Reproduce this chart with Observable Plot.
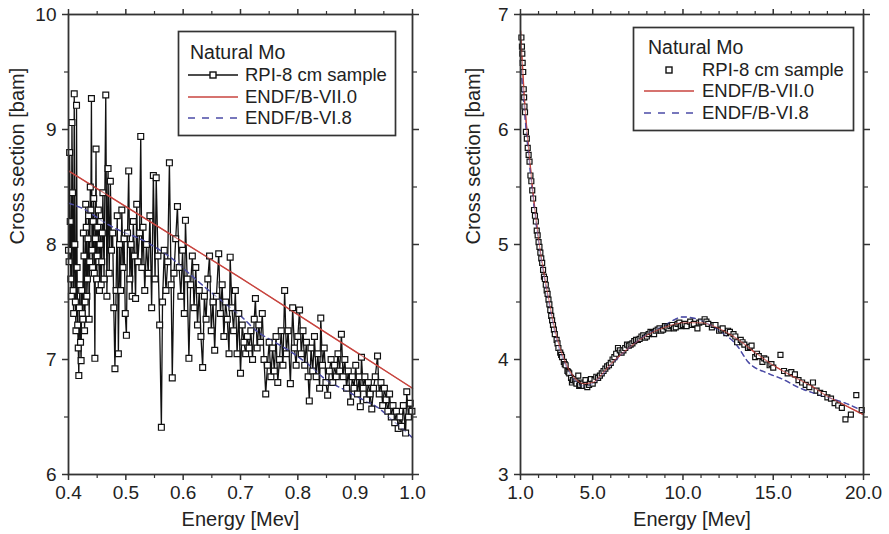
<!DOCTYPE html>
<html><head><meta charset="utf-8">
<script src="https://cdn.jsdelivr.net/npm/d3@7"></script>
<script src="https://cdn.jsdelivr.net/npm/@observablehq/plot@0.6"></script>
<style>
body{margin:0;background:#fff;}
#wrap{position:relative;width:889px;height:534px;font-family:"Liberation Sans",Arial,sans-serif;overflow:hidden;}
.panel{position:absolute;top:0;}
#overlay{position:absolute;left:0;top:0;pointer-events:none;}
</style></head><body><div id="wrap"></div>
<script>
// ---------- Left panel: 0.4 - 1.0 MeV ----------
const leftXTicks = [0.4, 0.5, 0.6, 0.7, 0.8, 0.9, 1.0];
const leftXMinor = [0.45, 0.55, 0.65, 0.75, 0.85, 0.95];
const leftYTicks = [6, 7, 8, 9, 10];
const leftYMinor = [6.5, 7.5, 8.5, 9.5];

// RPI-8 cm sample (energy MeV, cross section barn)
const leftRPI = [
[0.400,7.95],[0.402,8.80],[0.404,7.70],[0.406,9.06],[0.408,7.60],[0.410,9.31],[0.412,7.50],[0.414,9.21],
[0.416,7.30],[0.418,6.86],[0.420,7.65],[0.422,6.99],[0.424,7.40],[0.426,8.10],[0.428,7.25],[0.430,8.35],
[0.432,7.55],[0.434,8.05],[0.436,7.35],[0.438,8.50],[0.440,9.27],[0.442,7.80],[0.444,8.40],[0.446,7.01],
[0.448,8.83],[0.450,7.90],[0.452,8.30],[0.454,7.60],[0.456,8.20],[0.458,7.85],[0.460,8.45],[0.462,7.70],
[0.465,9.30],[0.467,7.55],[0.469,8.66],[0.471,7.75],[0.473,8.55],[0.475,7.95],[0.477,8.10],[0.479,7.45],
[0.481,6.92],[0.483,7.60],[0.485,8.25],[0.487,7.05],[0.489,8.00],[0.491,7.60],[0.493,8.30],[0.495,7.80],
[0.497,8.05],[0.499,7.40],[0.501,7.21],[0.503,8.10],[0.505,8.64],[0.507,7.70],[0.509,8.00],[0.511,7.55],
[0.513,8.20],[0.515,7.90],[0.517,7.53],[0.519,8.35],[0.521,7.85],[0.524,8.10],[0.526,8.94],[0.528,7.80],
[0.530,8.15],[0.533,7.60],[0.536,8.00],[0.539,7.75],[0.542,8.25],[0.545,7.45],[0.548,8.60],[0.551,7.70],
[0.553,8.58],[0.556,7.90],[0.559,7.30],[0.562,6.41],[0.564,7.50],[0.567,7.95],[0.570,7.60],[0.573,7.85],
[0.576,8.71],[0.579,7.65],[0.581,6.84],[0.584,7.75],[0.587,8.05],[0.590,8.33],[0.593,7.80],[0.596,7.55],
[0.599,7.95],[0.602,7.40],[0.604,8.21],[0.607,7.70],[0.610,7.01],[0.613,7.65],[0.616,7.90],[0.619,7.45],
[0.622,7.80],[0.625,7.30],[0.628,7.60],[0.631,7.20],[0.634,6.93],[0.637,7.55],[0.640,7.35],[0.643,7.70],
[0.646,7.90],[0.649,7.25],[0.652,7.50],[0.655,7.08],[0.658,7.55],[0.662,7.92],[0.665,7.40],[0.668,7.65],
[0.671,7.20],[0.674,7.50],[0.677,7.35],[0.680,7.05],[0.682,7.89],[0.685,7.45],[0.688,7.25],[0.691,7.60],
[0.694,7.05],[0.697,7.40],[0.700,6.88],[0.703,7.30],[0.706,7.15],[0.709,7.05],[0.712,7.20],[0.715,7.10],
[0.718,7.25],[0.721,7.00],[0.724,7.35],[0.726,7.53],[0.729,7.10],[0.732,7.30],[0.735,7.15],[0.738,7.40],
[0.741,7.00],[0.744,6.70],[0.747,6.95],[0.750,7.15],[0.753,6.85],[0.756,7.10],[0.759,6.90],[0.762,7.20],
[0.765,6.80],[0.768,7.00],[0.771,7.25],[0.774,6.95],[0.777,7.60],[0.780,7.05],[0.783,7.25],[0.787,6.79],
[0.791,7.45],[0.794,7.10],[0.797,6.95],[0.800,7.20],[0.803,7.43],[0.806,7.05],[0.809,7.25],[0.812,6.95],
[0.815,7.15],[0.818,6.85],[0.820,6.64],[0.823,7.10],[0.826,6.90],[0.829,7.20],[0.832,6.85],[0.835,7.05],
[0.838,6.75],[0.840,7.36],[0.843,6.95],[0.846,7.10],[0.849,6.80],[0.852,6.69],[0.855,6.90],[0.858,7.00],
[0.861,6.80],[0.864,6.95],[0.867,6.85],[0.870,7.05],[0.873,6.90],[0.876,7.22],[0.879,6.85],[0.882,7.00],
[0.885,6.75],[0.888,6.90],[0.892,6.63],[0.895,6.85],[0.898,6.75],[0.901,6.95],[0.904,6.70],[0.907,6.85],
[0.909,6.59],[0.911,7.02],[0.914,6.75],[0.917,6.85],[0.920,6.65],[0.923,6.80],[0.926,6.70],[0.929,6.57],
[0.932,6.75],[0.935,6.85],[0.939,7.03],[0.942,6.70],[0.945,6.80],[0.948,6.60],[0.951,6.75],[0.954,6.65],
[0.957,6.55],[0.960,6.70],[0.963,6.50],[0.966,6.60],[0.969,6.45],[0.972,6.55],[0.975,6.40],[0.978,6.50],
[0.981,6.42],[0.984,6.60],[0.988,6.36],[0.990,6.72],[0.993,6.50],[0.996,6.62],[0.999,6.55]
];
// extra points of the dense low-energy cluster
const leftRPIDense = [
[0.401,7.85],[0.403,8.20],[0.405,7.55],[0.407,8.45],[0.409,7.40],[0.411,8.00],[0.413,7.25],[0.415,7.80],
[0.417,7.10],[0.419,7.45],[0.421,7.15],[0.423,7.60],[0.425,7.35],[0.427,7.90],[0.429,7.50],[0.431,8.15],
[0.433,7.70],[0.435,8.25],[0.437,7.85],[0.439,8.30],[0.441,7.95],[0.443,8.20],[0.445,7.75],[0.447,8.05],
[0.449,7.70],[0.451,8.15],[0.453,7.85],[0.455,8.00],[0.457,7.65],[0.459,8.10]
];
const leftVII = [[0.40,8.64],[0.50,8.33],[0.60,8.02],[0.70,7.71],[0.80,7.39],[0.90,7.07],[1.00,6.75]];
const leftVI = [[0.40,8.36],[0.43,8.30],[0.46,8.20],[0.49,8.12],[0.52,8.06],[0.55,7.98],[0.58,7.88],
[0.61,7.75],[0.64,7.62],[0.67,7.50],[0.70,7.38],[0.73,7.24],[0.76,7.15],[0.79,7.06],[0.82,6.95],
[0.85,6.82],[0.88,6.74],[0.91,6.66],[0.94,6.58],[0.97,6.45],[1.00,6.32]];

// ---------- Right panel: 1 - 20 MeV ----------
const rightXTicks = [1, 5, 10, 15, 20];
const rightXMinor = [2,3,4,6,7,8,9,11,12,13,14,16,17,18,19];
const rightYTicks = [3, 4, 5, 6, 7];
const rightYMinor = [3.5, 4.5, 5.5, 6.5];

const rightRPI = [
[1.05,6.80],[1.10,6.66],[1.15,6.50],[1.20,6.28],[1.25,6.15],[1.30,5.98],[1.35,5.92],[1.40,5.84],
[1.45,5.78],[1.50,5.72],[1.55,5.60],[1.60,5.55],[1.65,5.47],[1.70,5.40],[1.75,5.30],[1.80,5.25],
[1.85,5.20],[1.90,5.12],[1.95,5.08],[2.00,5.02],[2.10,4.93],[2.20,4.84],[2.30,4.72],[2.40,4.65],
[2.50,4.57],[2.60,4.48],[2.70,4.38],[2.80,4.30],[2.90,4.22],[3.00,4.17],[3.10,4.10],[3.20,4.06],
[3.30,4.02],[3.40,3.98],[3.50,3.95],[3.60,3.90],[3.70,3.88],[3.80,3.84],[3.90,3.82],[4.00,3.83],
[4.10,3.79],[4.20,3.86],[4.30,3.78],[4.40,3.80],[4.50,3.77],[4.60,3.82],[4.70,3.76],[4.80,3.78],
[4.90,3.83],[5.00,3.79],[5.20,3.85],[5.40,3.86],[5.60,3.90],[5.80,3.94],[6.00,3.97],[6.20,4.02],
[6.40,4.10],[6.60,4.06],[6.80,4.10],[7.00,4.12],[7.20,4.14],[7.40,4.17],[7.60,4.18],[7.80,4.21],
[8.00,4.20],[8.20,4.24],[8.40,4.22],[8.60,4.26],[8.80,4.25],[9.00,4.29],[9.20,4.27],[9.40,4.30],
[9.60,4.28],[9.80,4.32],[10.0,4.30],[10.2,4.29],[10.4,4.33],[10.6,4.31],[10.8,4.27],[11.0,4.33],
[11.2,4.35],[11.4,4.31],[11.6,4.28],[11.8,4.30],[12.0,4.25],[12.2,4.27],[12.4,4.23],[12.6,4.24],
[12.8,4.22],[13.0,4.15],[13.2,4.17],[13.4,4.13],[13.6,4.10],[13.8,4.12],[14.0,4.02],[14.2,4.03],
[14.4,3.98],[14.6,4.00],[14.8,3.95],[15.0,3.93],[15.4,4.04],[15.6,3.90],[15.8,3.88],[16.0,3.89],
[16.2,3.87],[16.4,3.82],[16.6,3.80],[16.8,3.78],[17.0,3.76],[17.2,3.80],[17.4,3.73],[17.6,3.71],
[17.8,3.70],[18.0,3.67],[18.2,3.66],[18.4,3.62],[18.6,3.60],[18.8,3.58],[19.0,3.48],[19.3,3.52],
[19.6,3.69],[19.9,3.56]
];
const rightRPIDense = [
[1.08,6.72],[1.12,6.58],[1.18,6.35],[1.22,6.20],[2.05,4.98],[2.15,4.88],[2.25,4.78],[2.35,4.70],
[2.45,4.60],[2.55,4.52],[2.65,4.43],[2.75,4.34],[2.85,4.26],[3.05,4.14],[3.25,4.04],[3.45,3.96],
[3.65,3.89],[3.85,3.80],[4.05,3.81],[4.25,3.77],[4.45,3.79],[4.65,3.78],[4.85,3.80],[5.10,3.82],
[5.30,3.84],[5.50,3.88],[5.70,3.92],[5.90,3.95],[6.10,4.00],[6.30,4.05],[6.50,4.08],[6.70,4.08],
[6.90,4.13],[7.10,4.13],[7.30,4.16],[7.50,4.17],[7.70,4.20],[7.90,4.19],[8.10,4.22],[8.30,4.23],
[8.50,4.25],[8.70,4.27],[8.90,4.26],[9.10,4.28],[9.30,4.29],[9.50,4.27],[9.70,4.31],[9.90,4.29],
[10.1,4.31],[10.5,4.30],[10.9,4.32],[11.3,4.33],[11.7,4.30],[12.1,4.26],[12.5,4.25],[12.9,4.20],
[13.3,4.15],[13.7,4.11],[14.1,4.05],[14.5,4.01],[14.9,3.96]
];
const rightVII = [[1.0,6.86],[1.2,6.30],[1.5,5.75],[2.0,5.05],[2.5,4.58],[3.0,4.20],[3.5,3.97],[4.0,3.84],
[4.5,3.79],[5.0,3.80],[5.5,3.87],[6.0,3.96],[7.0,4.10],[8.0,4.21],[9.0,4.28],[10.0,4.32],[11.0,4.32],
[12.0,4.27],[13.0,4.18],[14.0,4.06],[15.0,3.95],[16.0,3.86],[17.0,3.78],[18.0,3.68],[19.0,3.60],[20.0,3.52]];
const rightVI = [[1.0,6.60],[1.2,6.20],[1.5,5.70],[2.0,5.02],[2.5,4.55],[3.0,4.17],[3.5,3.95],[4.0,3.82],
[4.5,3.77],[5.0,3.79],[5.5,3.86],[6.0,3.95],[7.0,4.10],[8.0,4.22],[9.0,4.30],[10.0,4.37],[11.0,4.34],
[12.0,4.25],[13.0,4.12],[13.6,3.98],[14.7,3.88],[15.5,3.83],[16.5,3.75],[17.2,3.71],[18.0,3.67],
[19.0,3.62],[20.0,3.55]];

const FONT = "Liberation Sans, Arial, Helvetica, sans-serif";
const AX = "#333";
const RED = "#c8453f";
const BLUE = "#4b4ba6";
const byEnergy = (a, b) => a[0] - b[0];

function panel(o) {
  const blank = () => "";
  return Plot.plot({
    width: o.width, height: 534,
    marginLeft: o.ml, marginRight: o.mr, marginTop: 14, marginBottom: 60,
    x: {domain: o.xDomain},
    y: {domain: o.yDomain},
    style: {fontFamily: FONT, fontSize: "19px", color: "#222", background: "white", overflow: "visible"},
    marks: [
      o.connect ? Plot.line(o.exp, {x: d => d[0], y: d => d[1], stroke: "#111", strokeWidth: 1.3}) : null,
      Plot.line(o.vii, {x: d => d[0], y: d => d[1], stroke: RED, strokeWidth: 1.4, curve: "monotone-x"}),
      Plot.line(o.vi, {x: d => d[0], y: d => d[1], stroke: BLUE, strokeWidth: 1.4, strokeDasharray: "5,4", curve: "monotone-x"}),
      Plot.dot(o.exp, {x: d => d[0], y: d => d[1], symbol: "square", r: o.r, fill: "white", stroke: "#111", strokeWidth: 1.2}),
      Plot.line(o.vii, {x: d => d[0], y: d => d[1], stroke: RED, strokeWidth: 1.1, strokeOpacity: 0.7, curve: "monotone-x"}),
      Plot.line(o.vi, {x: d => d[0], y: d => d[1], stroke: BLUE, strokeWidth: 1.1, strokeOpacity: 0.5, strokeDasharray: "5,4", curve: "monotone-x"}),
      Plot.frame({stroke: AX, strokeWidth: 1.8}),
      Plot.axisX({ticks: o.xTicks, tickSize: 6, tickPadding: 5, tickFormat: d => d.toFixed(1), label: null, stroke: AX, strokeWidth: 1.5, fill: "#222"}),
      Plot.axisX({ticks: o.xMinor, tickSize: 4, tickFormat: blank, label: null, stroke: AX, strokeWidth: 1.2}),
      Plot.axisX({anchor: "top", ticks: o.xTicks, tickSize: 6, tickFormat: blank, label: null, stroke: AX, strokeWidth: 1.5}),
      Plot.axisX({anchor: "top", ticks: o.xMinor, tickSize: 4, tickFormat: blank, label: null, stroke: AX, strokeWidth: 1.2}),
      Plot.axisY({ticks: o.yTicks, tickSize: 6, tickPadding: 6, tickFormat: d => String(d), label: null, stroke: AX, strokeWidth: 1.5, fill: "#222"}),
      Plot.axisY({ticks: o.yMinor, tickSize: 4, tickFormat: blank, label: null, stroke: AX, strokeWidth: 1.2}),
      Plot.axisY({anchor: "right", ticks: o.yTicks, tickSize: 6, tickFormat: blank, label: null, stroke: AX, strokeWidth: 1.5}),
      Plot.axisY({anchor: "right", ticks: o.yMinor, tickSize: 4, tickFormat: blank, label: null, stroke: AX, strokeWidth: 1.2}),
      Plot.text(["Energy [Mev]"], {frameAnchor: "bottom", dy: 45, fontSize: 20, fill: "#222", lineAnchor: "middle"}),
      Plot.text(["Cross section [bam]"], {frameAnchor: "left", dx: o.ylabDx, rotate: -90, fontSize: 20, fill: "#222", lineAnchor: "middle"})
    ]
  });
}

const wrap = document.getElementById("wrap");
const left = panel({width: 445, ml: 68, mr: 33, xDomain: [0.4, 1.0], yDomain: [6, 10],
  xTicks: leftXTicks, xMinor: leftXMinor, yTicks: leftYTicks, yMinor: leftYMinor,
  exp: leftRPI.concat(leftRPIDense).sort(byEnergy), vii: leftVII, vi: leftVI, connect: true, r: 3.3, ylabDx: -51});
left.classList.add("panel"); left.style.left = "0px";
wrap.appendChild(left);

const right = panel({width: 444, ml: 75, mr: 26, xDomain: [1, 20], yDomain: [3, 7],
  xTicks: rightXTicks, xMinor: rightXMinor, yTicks: rightYTicks, yMinor: rightYMinor,
  exp: rightRPI.concat(rightRPIDense).sort(byEnergy), vii: rightVII, vi: rightVI, connect: false, r: 2.8, ylabDx: -47});
right.classList.add("panel"); right.style.left = "445px";
wrap.appendChild(right);

// ---------- Legends ----------
const legendTitle = "Natural Mo";
const legendNames = ["RPI-8 cm sample", "ENDF/B-VII.0", "ENDF/B-VI.8"];
function legend(g, box, connect) {
  const [bx, by, bw, bh, tx, ty, lx0, lx1, ex, rows] = box;
  g.append("rect").attr("x", bx).attr("y", by).attr("width", bw).attr("height", bh)
    .attr("fill", "white").attr("stroke", AX).attr("stroke-width", 1.7);
  g.append("text").attr("x", tx).attr("y", ty).attr("dy", "0.35em").attr("font-size", 19.5).attr("fill", "#222").text(legendTitle);
  const mid = (lx0 + lx1) / 2;
  if (connect) g.append("line").attr("x1", lx0).attr("x2", lx1).attr("y1", rows[0]).attr("y2", rows[0]).attr("stroke", "#111").attr("stroke-width", 1.6);
  g.append("rect").attr("x", mid - 3).attr("y", rows[0] - 3).attr("width", 6).attr("height", 6)
    .attr("fill", "white").attr("stroke", "#111").attr("stroke-width", 1.4);
  g.append("line").attr("x1", lx0).attr("x2", lx1).attr("y1", rows[1]).attr("y2", rows[1]).attr("stroke", RED).attr("stroke-width", 1.6);
  g.append("line").attr("x1", lx0).attr("x2", lx1).attr("y1", rows[2]).attr("y2", rows[2]).attr("stroke", BLUE).attr("stroke-width", 1.6).attr("stroke-dasharray", "7,7");
  legendNames.forEach((n, i) => {
    g.append("text").attr("x", ex).attr("y", rows[i]).attr("dy", "0.35em").attr("font-size", 18.5).attr("fill", "#222").text(n);
  });
}
const ov = d3.select(wrap).append("svg").attr("id", "overlay").attr("width", 889).attr("height", 534)
  .attr("font-family", FONT);
legend(ov.append("g"), [178.5, 31.5, 217, 104, 190, 52, 188, 238, 245, [75, 97, 118]], true);
legend(ov.append("g"), [633.5, 27.5, 220, 103, 648, 47, 644, 694, 702, [70, 91, 113]], false);
</script>
</body></html>
